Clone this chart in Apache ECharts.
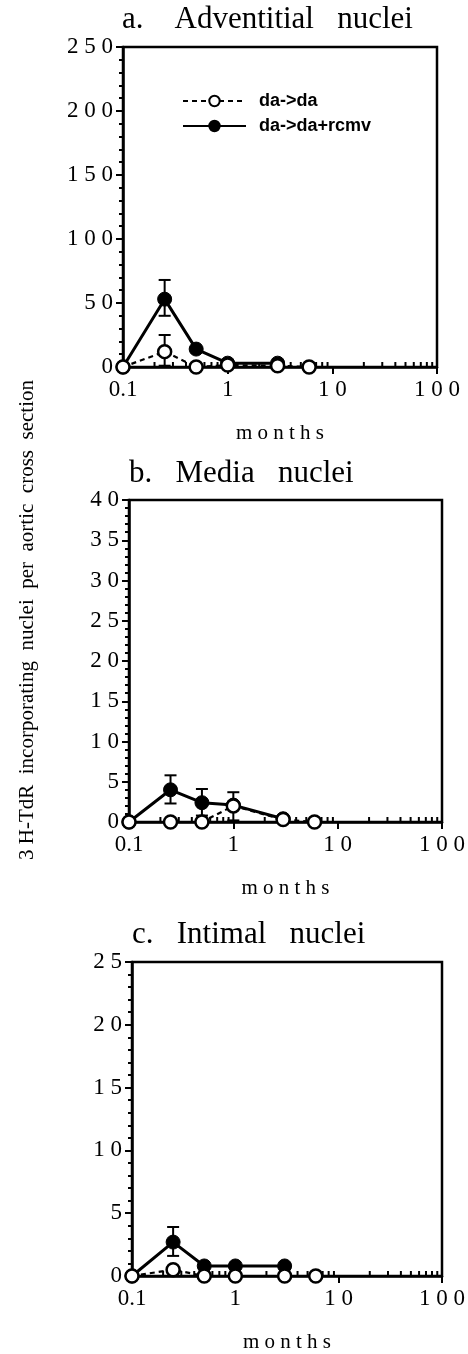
<!DOCTYPE html>
<html>
<head>
<meta charset="utf-8">
<script src="https://cdn.jsdelivr.net/npm/echarts@6/dist/echarts.min.js"></script>
<style>
  html, body { margin: 0; padding: 0; background: #fff; }
  #chart { width: 468px; height: 1354px; }
</style>
</head>
<body>
<div id="chart"></div>
<script>
// x values (months)
const months = [0.1, 0.25, 0.5, 1, 3, 6]
const monthsRcmv = [0.1, 0.25, 0.5, 1, 3]
const minorTickValues = [0.2, 0.3, 0.4, 0.5, 0.6, 0.7, 0.8, 0.9, 2, 3, 4, 5, 6, 7, 8, 9, 20, 30, 40, 50, 60, 70, 80, 90]

// a. adventitial
const advControl = [0, 12, 0, 1.5, 1, 0]
const advRcmv = [0, 53, 14, 3, 3]
// [x, low, high]
const advErr = [[0.25, 40, 68], [0.25, 1, 25]]

// b. media
const medControl = [0, 0, 0, 2, 0.3, 0]
const medRcmv = [0, 4, 2.4, 2.1, 0.4]
const medErr = [[0.25, 2.3, 5.8], [0.5, 0.8, 4.1], [1, 0.2, 3.7]]

// c. intimal
const intControl = [0, 0.5, 0, 0, 0, 0]
const intRcmv = [0, 2.7, 0.8, 0.8, 0.8]
const intErr = [[0.25, 1.6, 3.9]]

const yMax = [250, 40, 25]
const yInterval = [50, 5, 5]
const titles = ['a.    Adventitial   nuclei', 'b.   Media   nuclei', 'c.   Intimal   nuclei']

const serif = 'Liberation Serif, Times New Roman, serif'
const spaced = (s) => String(s).split('').join(' ')

const grids = [
  { left: 123, top: 47, width: 314, height: 320 },
  { left: 129, top: 500, width: 313, height: 322 },
  { left: 132, top: 962, width: 313, height: 323 }
]

const chart = echarts.init(document.getElementById('chart'))

const xAxes = grids.map((g, i) => ({
  type: 'log',
  logBase: 10,
  gridIndex: i,
  min: 0.1,
  max: 100,
  name: spaced('months'),
  nameLocation: 'middle',
  nameGap: 56,
  nameTextStyle: { fontFamily: serif, fontSize: 21, color: '#000' },
  axisLine: { lineStyle: { color: '#000', width: 2.5 } },
  axisTick: { length: 7, lineStyle: { color: '#000', width: 2 } },
  axisLabel: {
    margin: 11,
    fontFamily: serif,
    fontSize: 23,
    color: '#000',
    formatter: (v) => (v < 1 ? '0.1' : spaced(Math.round(v)))
  },
  splitLine: { show: false }
}))

const yAxes = grids.map((g, i) => ({
  type: 'value',
  gridIndex: i,
  min: 0,
  max: yMax[i],
  interval: yInterval[i],
  axisLine: { show: true, lineStyle: { color: '#000', width: 2.5 } },
  axisTick: { show: true, length: 7, lineStyle: { color: '#000', width: 2 } },
  minorTick: { show: true, splitNumber: 5, length: 4, lineStyle: { color: '#000', width: 2 } },
  axisLabel: {
    margin: 10,
    fontFamily: serif,
    fontSize: 23,
    color: '#000',
    formatter: (v) => spaced(v)
  },
  splitLine: { show: false }
}))

const pair = (xs, ys) => ys.map((y, k) => [xs[k], y])

const errSeries = (data, i) => ({
  type: 'custom',
  xAxisIndex: i,
  yAxisIndex: i,
  z: 1,
  silent: true,
  data: data,
  renderItem: (params, api) => {
    const lo = api.coord([api.value(0), api.value(1)])
    const hi = api.coord([api.value(0), api.value(2)])
    const style = { stroke: '#000', lineWidth: 2 }
    return {
      type: 'group',
      children: [
        { type: 'line', shape: { x1: lo[0], y1: lo[1], x2: hi[0], y2: hi[1] }, style },
        { type: 'line', shape: { x1: hi[0] - 6, y1: hi[1], x2: hi[0] + 6, y2: hi[1] }, style },
        { type: 'line', shape: { x1: lo[0] - 6, y1: lo[1], x2: lo[0] + 6, y2: lo[1] }, style }
      ]
    }
  }
})

const minorXTicks = (i) => ({
  type: 'custom',
  xAxisIndex: i,
  yAxisIndex: i,
  z: 0,
  silent: true,
  clip: false,
  data: minorTickValues.map((v) => [v, 0]),
  renderItem: (params, api) => {
    const p = api.coord([api.value(0), 0])
    return {
      type: 'line',
      shape: { x1: p[0], y1: p[1], x2: p[0], y2: p[1] - 5 },
      style: { stroke: '#000', lineWidth: 2 }
    }
  }
})

const lineSeries = (name, data, i, filled) => ({
  name: name,
  type: 'line',
  xAxisIndex: i,
  yAxisIndex: i,
  data: data,
  symbol: 'circle',
  symbolSize: filled ? 14 : 13,
  z: filled ? 2 : 3,
  clip: false,
  lineStyle: filled
    ? { color: '#000', width: 3, type: 'solid' }
    : { color: '#000', width: 2.2, type: [5, 4] },
  itemStyle: filled
    ? { color: '#000', borderColor: '#000', borderWidth: 1 }
    : { color: '#fff', borderColor: '#000', borderWidth: 2.5 }
})

const controls = [advControl, medControl, intControl]
const rcmvs = [advRcmv, medRcmv, intRcmv]
const errs = [advErr, medErr, intErr]

const series = []
grids.forEach((g, i) => {
  series.push(minorXTicks(i))
  series.push(errSeries(errs[i], i))
  series.push(lineSeries('da->da+rcmv', pair(monthsRcmv, rcmvs[i]), i, true))
  series.push(lineSeries('da->da', pair(months, controls[i]), i, false))
})

const option = {
  animation: false,
  backgroundColor: '#fff',
  title: [
    { text: titles[0], left: 117, top: -1 },
    { text: titles[1], left: 124, top: 453 },
    { text: titles[2], left: 127, top: 914 }
  ].map((t) => ({
    ...t,
    textStyle: { fontFamily: serif, fontSize: 31, fontWeight: 'normal', color: '#000' }
  })),
  legend: {
    data: ['da->da', 'da->da+rcmv'],
    orient: 'vertical',
    left: 177,
    top: 87,
    itemWidth: 63,
    itemHeight: 13,
    itemGap: 7,
    textStyle: {
      fontFamily: 'Liberation Sans Narrow, Liberation Sans, Arial, sans-serif',
      fontSize: 18,
      fontWeight: 'bold',
      color: '#000',
      padding: [0, 0, 0, 8]
    }
  },
  grid: grids.map((g) => ({
    ...g,
    show: true,
    borderColor: '#000',
    borderWidth: 2.5,
    backgroundColor: 'transparent'
  })),
  xAxis: xAxes,
  yAxis: yAxes,
  graphic: [
    {
      type: 'text',
      x: 27,
      y: 620,
      rotation: Math.PI / 2,
      style: {
        text: '3 H-TdR  incorporating  nuclei  per  aortic  cross  section',
        fontFamily: serif,
        fontSize: 21,
        fill: '#000',
        align: 'center',
        verticalAlign: 'middle'
      }
    }
  ],
  series: series
}

option && chart.setOption(option)
</script>
</body>
</html>
